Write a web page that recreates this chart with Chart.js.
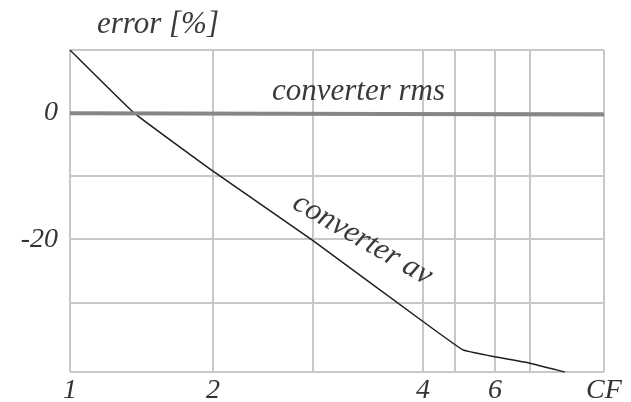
<!DOCTYPE html>
<html>
<head>
<meta charset="utf-8">
<script src="https://cdn.jsdelivr.net/npm/chart.js@4"></script>
<style>
  html, body { margin: 0; padding: 0; background: #ffffff; }
  canvas { display: block; }
</style>
</head>
<body>
<canvas id="errChart" width="631" height="402"></canvas>
<script>
// 資料
const xTicks = [1, 2, 3, 4, 5, 6, 7, 8];
const xTickLabels = ["1", "2", "", "4", "", "6", "", "CF"];
const yTicks = [-41, -30, -20, -10, 0, 10];
const yTickLabels = { "0": "0", "-20": "-20" };

const avCF = [1, 1.45, 2, 3, 4, 5.2, 6, 7, 7.47];
const avError = [10, 0, -9.2, -20.2, -33, -37.5, -38.6, -39.6, -41];
const rmsCF = [1, 8];
const rmsError = [0, -0.2];

// 橫軸格線的相對位置（原圖的刻度不等距）
const GRID_FRAC = [0, 0.2678, 0.4551, 0.6610, 0.7210, 0.7959, 0.8614, 1];

class WarpScale extends Chart.LinearScale {
  getPixelForValue(value) {
    if (value === null || isNaN(value)) return NaN;
    let i = 0;
    while (i < xTicks.length - 2 && value > xTicks[i + 1]) i++;
    const t = (value - xTicks[i]) / (xTicks[i + 1] - xTicks[i]);
    const f = GRID_FRAC[i] + t * (GRID_FRAC[i + 1] - GRID_FRAC[i]);
    return this.getPixelForDecimal(f);
  }
  getValueForPixel(pixel) {
    const f = this.getDecimalForPixel(pixel);
    let i = 0;
    while (i < GRID_FRAC.length - 2 && f > GRID_FRAC[i + 1]) i++;
    const t = (f - GRID_FRAC[i]) / (GRID_FRAC[i + 1] - GRID_FRAC[i]);
    return xTicks[i] + t * (xTicks[i + 1] - xTicks[i]);
  }
}
WarpScale.id = "warp";
WarpScale.defaults = Chart.LinearScale.defaults;
Chart.register(WarpScale);

const serif = { family: "'Liberation Serif', 'DejaVu Serif', serif", style: "italic", size: 28 };
const gridStyle = { color: "#c8c8c8", lineWidth: 2, drawTicks: false };

// 文字標註
const labelPlugin = {
  id: "labels",
  afterDatasetsDraw(chart) {
    const { ctx, chartArea, scales } = chart;
    const x = scales.x, y = scales.y;
    ctx.save();
    ctx.font = "italic 31px 'Liberation Serif', serif";
    ctx.fillStyle = "#3a3a3a";
    ctx.textBaseline = "alphabetic";
    ctx.textAlign = "left";
    ctx.fillText("error [%]", chartArea.left + 27, 33);
    ctx.fillText("converter rms", x.getPixelForValue(2.59), y.getPixelForValue(0) - 13);
    ctx.translate(x.getPixelForValue(3.45), y.getPixelForValue(-20));
    ctx.rotate(30 * Math.PI / 180);
    ctx.textAlign = "center";
    ctx.textBaseline = "middle";
    ctx.fillText("converter av", 0, 0);
    ctx.restore();
  },
};

new Chart(document.getElementById("errChart"), {
  type: "line",
  data: {
    datasets: [
      {
        label: "converter rms",
        data: rmsCF.map((v, i) => ({ x: v, y: rmsError[i] })),
        borderColor: "#868686",
        borderWidth: 4,
        pointRadius: 0,
        clip: false,
      },
      {
        label: "converter av",
        data: avCF.map((v, i) => ({ x: v, y: avError[i] })),
        borderColor: "#1e1e1e",
        borderWidth: 1.5,
        pointRadius: 0,
        tension: 0.1,
        clip: false,
      },
    ],
  },
  options: {
    responsive: false,
    animation: false,
    layout: { padding: { top: 50, right: 27, left: 0, bottom: 0 } },
    plugins: { legend: { display: false }, tooltip: { enabled: false } },
    scales: {
      x: {
        type: "warp",
        min: 1,
        max: 8,
        afterBuildTicks: s => { s.ticks = xTicks.map(v => ({ value: v })); },
        afterFit: s => { s.height = 30; },
        grid: gridStyle,
        border: { display: false },
        ticks: {
          autoSkip: false, maxRotation: 0, padding: 2, color: "#333333", font: serif,
          callback: (v, i) => xTickLabels[i],
        },
      },
      y: {
        type: "linear",
        min: -41,
        max: 10,
        afterBuildTicks: s => { s.ticks = yTicks.map(v => ({ value: v })); },
        afterFit: s => { s.width = 70; },
        grid: gridStyle,
        border: { display: false },
        ticks: {
          padding: 12, color: "#333333", font: serif,
          callback: v => yTickLabels[String(v)] || "",
        },
      },
    },
  },
  plugins: [labelPlugin],
});
</script>
</body>
</html>
